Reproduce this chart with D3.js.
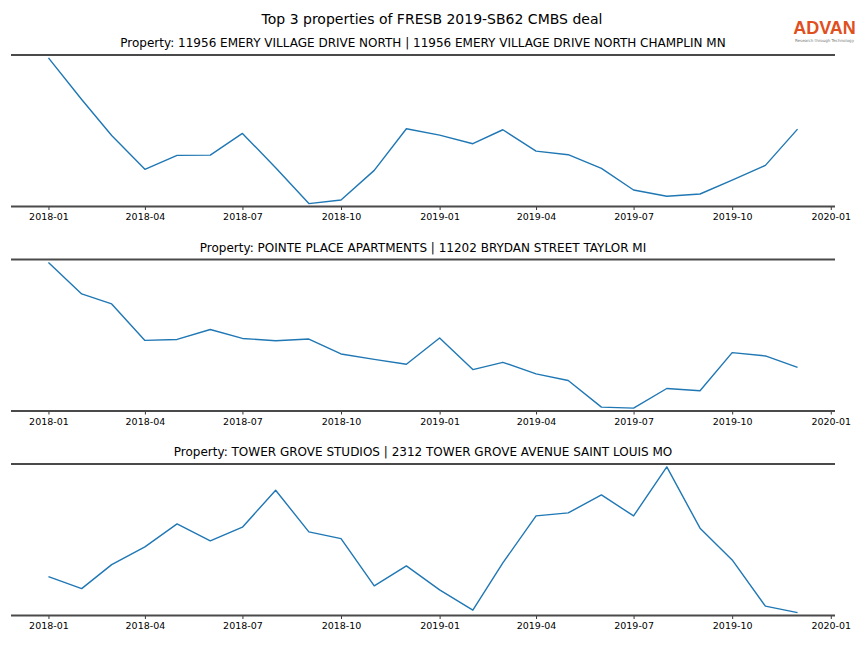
<!DOCTYPE html>
<html>
<head>
<meta charset="utf-8">
<script src="https://cdn.jsdelivr.net/npm/d3@7"></script>
<style>
  html, body { margin: 0; padding: 0; background: #fff; }
  svg { display: block; font-family: "DejaVu Sans", sans-serif; }
</style>
</head>
<body>
<div id="chart"></div>
<script>
// ---- data ----
const months = ["2018-01","2018-02","2018-03","2018-04","2018-05","2018-06","2018-07","2018-08","2018-09","2018-10","2018-11","2018-12",
                "2019-01","2019-02","2019-03","2019-04","2019-05","2019-06","2019-07","2019-08","2019-09","2019-10","2019-11","2019-12"];
const chartTitle = "Top 3 properties of FRESB 2019-SB62 CMBS deal";
const propertyTitles = [
  "Property: 11956 EMERY VILLAGE DRIVE NORTH | 11956 EMERY VILLAGE DRIVE NORTH CHAMPLIN MN",
  "Property: POINTE PLACE APARTMENTS | 11202 BRYDAN STREET TAYLOR MI",
  "Property: TOWER GROVE STUDIOS | 2312 TOWER GROVE AVENUE SAINT LOUIS MO"
];
const emeryValues = [148.4,106.7,70.7,36.7,50.7,51.0,72.7,38.4,2.4,6.0,35.7,77.4,71.0,62.4,76.4,55.0,51.4,37.7,16.0,9.7,12.0,26.0,40.7,77.0];
const pointeValues = [148.4,116.7,106.7,70.0,71.0,81.0,72.0,69.7,71.4,56.4,51.0,46.0,72.4,40.7,48.0,36.4,29.7,3.0,2.0,21.7,19.4,57.7,54.4,43.0];
const towerValues = [38.0,26.0,50.0,67.7,90.7,73.7,87.4,124.4,82.7,76.0,28.7,48.7,24.7,4.4,51.7,98.7,101.7,119.7,98.7,147.7,86.4,54.7,8.4,2.0];
const tickLabels = ["2018-01","2018-04","2018-07","2018-10","2019-01","2019-04","2019-07","2019-10","2020-01"];
const seriesList = [emeryValues, pointeValues, towerValues];

// ---- layout ----
const W = 864, H = 648;
const axLeft = 11, axRight = 835;
const panelTops = [55, 259.5, 464];
const panelHeight = 151.5;

const parse = d3.timeParse("%Y-%m");
const dates = months.map(parse);
const tickDates = tickLabels.map(parse);

const svg = d3.select("#chart").append("svg").attr("width", W).attr("height", H);

// x scale with 5% margins like matplotlib
const t0 = dates[0].getTime(), t1 = dates[dates.length - 1].getTime();
const pad = (t1 - t0) * 0.05;
const x = d3.scaleTime().domain([new Date(t0 - pad), new Date(t1 + pad)]).range([axLeft, axRight]);

svg.append("text")
  .attr("x", W / 2).attr("y", 24)
  .attr("text-anchor", "middle")
  .attr("font-size", 14)
  .attr("fill", "#000")
  .text(chartTitle);

seriesList.forEach((vals, i) => {
  const top = panelTops[i], bottom = top + panelHeight;
  const [mn, mx] = d3.extent(vals);
  const yp = (mx - mn) * 0.02;
  const y = d3.scaleLinear().domain([mn - yp, mx + yp]).range([bottom, top]);
  const g = svg.append("g");

  // subtitle
  g.append("text")
    .attr("x", (axLeft + axRight) / 2).attr("y", top - 8)
    .attr("text-anchor", "middle")
    .attr("font-size", 12)
    .attr("fill", "#000")
    .text(propertyTitles[i]);

  // x axis
  const xAxis = d3.axisBottom(x)
    .tickValues(tickDates)
    .tickFormat(d3.timeFormat("%Y-%m"))
    .tickSize(3.5)
    .tickPadding(3.5);
  const ax = g.append("g").attr("transform", `translate(0,${bottom})`).call(xAxis);
  ax.select(".domain").remove();
  ax.selectAll(".tick line").attr("stroke", "#000").attr("stroke-width", 0.8);
  ax.selectAll(".tick text").attr("font-size", 9.5).attr("fill", "#000")
    .attr("font-family", "DejaVu Sans, sans-serif");

  // line
  const line = d3.line().x((d, j) => x(dates[j])).y(d => y(d));
  g.append("path")
    .datum(vals)
    .attr("fill", "none")
    .attr("stroke", "#1f77b4")
    .attr("stroke-width", 1.4)
    .attr("stroke-linejoin", "round")
    .attr("d", line);

  // top and bottom spines
  [top, bottom].forEach(yy => {
    g.append("line")
      .attr("x1", axLeft).attr("x2", axRight)
      .attr("y1", yy).attr("y2", yy)
      .attr("stroke", "#4a4a4a").attr("stroke-width", 2);
  });
});

// logo
const logo = svg.append("g");
logo.append("text")
  .attr("x", 824.5).attr("y", 34)
  .attr("text-anchor", "middle")
  .attr("font-size", 18)
  .attr("font-weight", "bold")
  .attr("font-family", "Liberation Sans, Arial, sans-serif")
  .attr("fill", "#e0501e")
  .text("ADVAN");
logo.append("text")
  .attr("x", 824.5).attr("y", 41.5)
  .attr("text-anchor", "middle")
  .attr("font-size", 4)
  .attr("fill", "#777")
  .text("Research through Technology");
</script>
</body>
</html>
